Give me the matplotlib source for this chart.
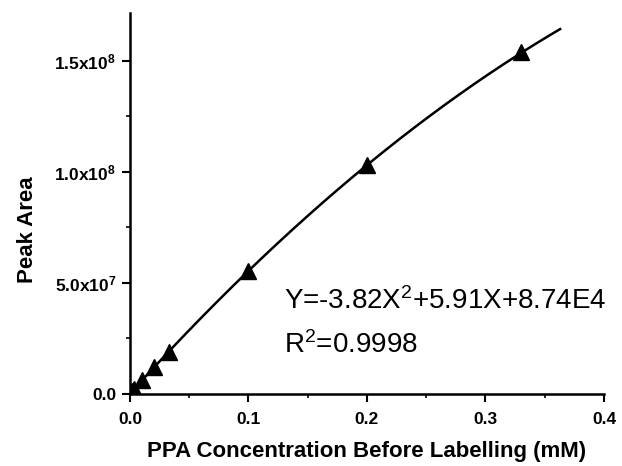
import matplotlib
matplotlib.use('Agg')
import matplotlib.pyplot as plt
import numpy as np

# concentrations (mM) and measured peak areas
ppa_conc = [0.0017, 0.0033, 0.01, 0.02, 0.033, 0.1, 0.2, 0.33]
peak_area = [1.1e6, 2.0e6, 6.0e6, 1.2e7, 1.9e7, 5.55e7, 1.03e8, 1.54e8]

# quadratic fit as printed on the chart (coefficients scaled by 1e8)
fit_a, fit_b, fit_c = -3.82e8, 5.91e8, 8.74e4
fit_end = 0.363

x_ticks = [0.0, 0.1, 0.2, 0.3, 0.4]
x_tick_labels = ['0.0', '0.1', '0.2', '0.3', '0.4']
y_ticks = [0, 5e7, 1e8, 1.5e8]
y_tick_labels = ['0.0', r'5.0x10$^{7}$', r'1.0x10$^{8}$', r'1.5x10$^{8}$']

plt.rcParams['font.family'] = ['Liberation Sans', 'DejaVu Sans']
plt.rcParams['mathtext.fontset'] = 'custom'
plt.rcParams['mathtext.rm'] = 'Liberation Sans'
plt.rcParams['mathtext.bf'] = 'Liberation Sans:bold'
plt.rcParams['mathtext.default'] = 'bf'

fig = plt.figure(figsize=(6.22, 4.66), dpi=100)
ax = fig.add_axes([0.209, 0.155, 0.762, 0.817])

xf = np.linspace(0, fit_end, 200)
ax.plot(xf, fit_a * xf**2 + fit_b * xf + fit_c, color='black', lw=1.8)
ax.plot(ppa_conc, peak_area, linestyle='none', marker='^', color='black',
        markersize=11)

ax.set_xlim(0, 0.4)
ax.set_ylim(0, 1.715e8)
ax.set_xticks(x_ticks)
ax.set_xticklabels(x_tick_labels)
ax.set_yticks(y_ticks)
ax.set_yticklabels(y_tick_labels)
ax.set_xticks([0.05, 0.15, 0.25, 0.35], minor=True)
ax.set_yticks([2.5e7, 7.5e7, 1.25e8], minor=True)

for lab in ax.get_xticklabels() + ax.get_yticklabels():
    lab.set_fontweight('bold')
    lab.set_fontsize(12.5)

ax.tick_params(which='major', direction='out', length=6, width=1.5, pad=4)
ax.tick_params(axis='x', which='major', pad=7)
ax.tick_params(which='minor', direction='out', length=3, width=1.2)
ax.spines['top'].set_visible(False)
ax.spines['right'].set_visible(False)
ax.spines['left'].set_linewidth(1.8)
ax.spines['bottom'].set_linewidth(1.8)

ax.set_xlabel('PPA Concentration Before Labelling (mM)', fontsize=16,
              fontweight='bold', labelpad=10)
ax.set_ylabel('Peak Area', fontsize=16, fontweight='bold')
ax.yaxis.set_label_coords(-0.195, 0.43)

ax.text(0.325, 0.222, r'Y=-3.82X$^{\mathrm{2}}$+5.91X+8.74E4', transform=ax.transAxes,
        fontsize=20)
ax.text(0.325, 0.107, r'R$^{\mathrm{2}}$=0.9998', transform=ax.transAxes,
        fontsize=20)

fig.savefig('out.png', dpi=100)
